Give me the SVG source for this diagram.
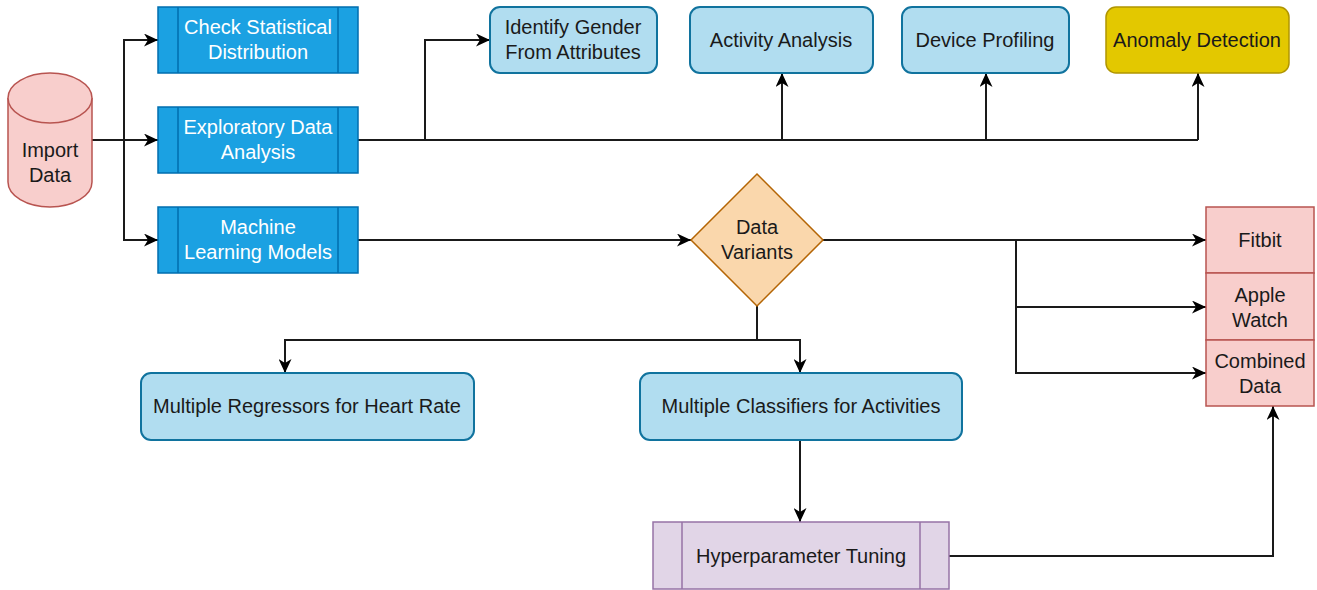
<svg xmlns="http://www.w3.org/2000/svg" width="1317" height="590" viewBox="0 0 1317 590">
<style>
text{font-family:"Liberation Sans",Arial,sans-serif;font-size:20px;text-anchor:middle;fill:#1a1a1a}
.proc{fill:#1ba1e2;stroke:#006eaf;stroke-width:1.5}
.proc-t{fill:#ffffff}
.rnd{fill:#b1ddf0;stroke:#10739e;stroke-width:2}
.anom{fill:#e3c800;stroke:#b09500;stroke-width:1.5}
.red{fill:#f8cecc;stroke:#b85450;stroke-width:1.5}
.purp{fill:#e1d5e7;stroke:#9673a6;stroke-width:1.5}
.dia{fill:#fad7ac;stroke:#b46504;stroke-width:1.5}
.edge{fill:none;stroke:#1a1a1a;stroke-width:2}
.arr{marker-end:url(#ah)}
</style>
<defs>
<marker id="ah" markerUnits="userSpaceOnUse" markerWidth="15" markerHeight="13" refX="14" refY="6.5" orient="auto">
<path d="M0,0 L14,6.5 L0,13 L4,6.5 Z" fill="#000"/>
</marker>
</defs>
<g id="connectors">
<path class="edge" d="M92,140 H124"/>
<path class="edge arr" d="M124,140 V40 H158"/>
<path class="edge arr" d="M124,140 H158"/>
<path class="edge arr" d="M124,140 V240 H158"/>
<path class="edge" d="M358,140 H1198"/>
<path class="edge arr" d="M425,140 V40 H490"/>
<path class="edge arr" d="M782,140 V73"/>
<path class="edge arr" d="M986,140 V73"/>
<path class="edge arr" d="M1198,140 V73"/>
<path class="edge arr" d="M358,240 H691"/>
<path class="edge arr" d="M823,240 H1206"/>
<path class="edge arr" d="M1016,240 V307 H1206"/>
<path class="edge arr" d="M1016,307 V373 H1206"/>
<path class="edge" d="M757,306 V340"/>
<path class="edge arr" d="M757,340 H285 V373"/>
<path class="edge arr" d="M757,340 H800 V373"/>
<path class="edge arr" d="M800,440 V522"/>
<path class="edge arr" d="M949,556 H1273 V406"/>
</g>
<g id="import-data">
<path class="red" d="M8,98 a42,25 0 0 1 84,0 v84 a42,25 0 0 1 -84,0 Z"/>
<path class="red" fill="none" d="M8,98 a42,25 0 0 0 84,0"/>
<text x="50" y="157">Import</text>
<text x="50" y="182">Data</text>
</g>
<g id="check-stat">
<rect class="proc" x="158" y="7" width="200" height="66"/>
<path class="proc" d="M178,7 V73 M338,7 V73"/>
<text class="proc-t" x="258" y="34">Check Statistical</text>
<text class="proc-t" x="258" y="59">Distribution</text>
</g>
<g id="eda">
<rect class="proc" x="158" y="107" width="200" height="66"/>
<path class="proc" d="M178,107 V173 M338,107 V173"/>
<text class="proc-t" x="258" y="134">Exploratory Data</text>
<text class="proc-t" x="258" y="159">Analysis</text>
</g>
<g id="ml-models">
<rect class="proc" x="158" y="207" width="200" height="66"/>
<path class="proc" d="M178,207 V273 M338,207 V273"/>
<text class="proc-t" x="258" y="234">Machine</text>
<text class="proc-t" x="258" y="259">Learning Models</text>
</g>
<g id="identify-gender">
<rect class="rnd" x="490" y="7" width="167" height="66" rx="10"/>
<text x="573" y="34">Identify Gender</text>
<text x="573" y="59">From Attributes</text>
</g>
<g id="activity-analysis">
<rect class="rnd" x="690" y="7" width="183" height="66" rx="10"/>
<text x="781" y="47">Activity Analysis</text>
</g>
<g id="device-profiling">
<rect class="rnd" x="902" y="7" width="167" height="66" rx="10"/>
<text x="985" y="47">Device Profiling</text>
</g>
<g id="anomaly-detection">
<rect class="anom" x="1106" y="7" width="183" height="66" rx="10"/>
<text x="1197" y="47">Anomaly Detection</text>
</g>
<g id="data-variants">
<path class="dia" d="M757,174 L823,240 L757,306 L691,240 Z"/>
<text x="757" y="234">Data</text>
<text x="757" y="259">Variants</text>
</g>
<g id="fitbit">
<rect class="red" x="1206" y="207" width="108" height="66"/>
<text x="1260" y="247">Fitbit</text>
</g>
<g id="apple-watch">
<rect class="red" x="1206" y="273" width="108" height="67"/>
<text x="1260" y="302">Apple</text>
<text x="1260" y="327">Watch</text>
</g>
<g id="combined-data">
<rect class="red" x="1206" y="340" width="108" height="66"/>
<text x="1260" y="368">Combined</text>
<text x="1260" y="393">Data</text>
</g>
<g id="regressors">
<rect class="rnd" x="141" y="373" width="333" height="67" rx="10"/>
<text x="307" y="413">Multiple Regressors for Heart Rate</text>
</g>
<g id="classifiers">
<rect class="rnd" x="640" y="373" width="322" height="67" rx="10"/>
<text x="801" y="413">Multiple Classifiers for Activities</text>
</g>
<g id="hyperparameter">
<rect class="purp" x="653" y="522" width="296" height="67"/>
<path class="purp" d="M682,522 V589 M920,522 V589"/>
<text x="801" y="563">Hyperparameter Tuning</text>
</g>
</svg>
